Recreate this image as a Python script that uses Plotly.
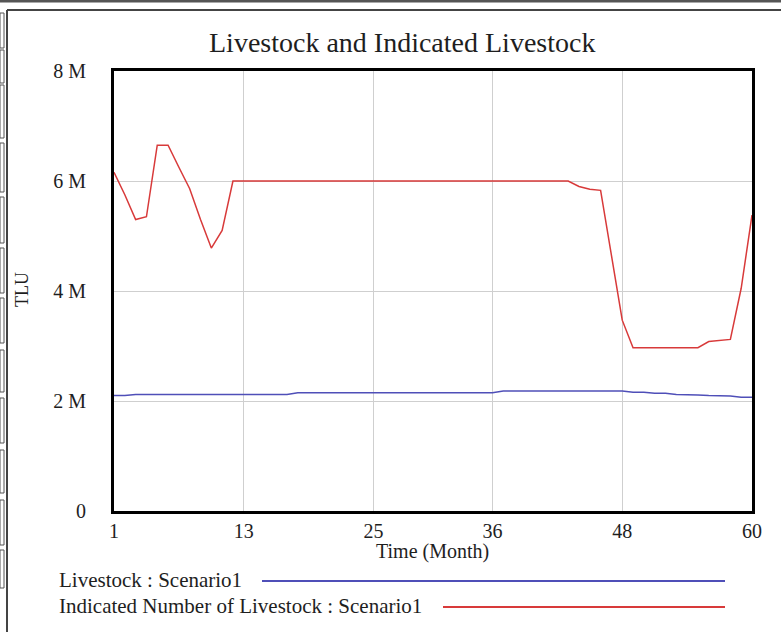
import plotly.graph_objects as go

# ---- data ----
months = list(range(1, 61))
livestock = [
    2.10e6, 2.10e6, 2.12e6, 2.12e6, 2.12e6, 2.12e6, 2.12e6, 2.12e6, 2.12e6, 2.12e6,
    2.12e6, 2.12e6, 2.12e6, 2.12e6, 2.12e6, 2.12e6, 2.12e6, 2.15e6, 2.15e6, 2.15e6,
    2.15e6, 2.15e6, 2.15e6, 2.15e6, 2.15e6, 2.15e6, 2.15e6, 2.15e6, 2.15e6, 2.15e6,
    2.15e6, 2.15e6, 2.15e6, 2.15e6, 2.15e6, 2.15e6, 2.18e6, 2.18e6, 2.18e6, 2.18e6,
    2.18e6, 2.18e6, 2.18e6, 2.18e6, 2.18e6, 2.18e6, 2.18e6, 2.18e6, 2.16e6, 2.16e6,
    2.14e6, 2.14e6, 2.12e6, 2.12e6, 2.11e6, 2.10e6, 2.10e6, 2.09e6, 2.07e6, 2.07e6,
]
indicated = [
    6.16e6, 5.75e6, 5.30e6, 5.35e6, 6.65e6, 6.65e6, 6.25e6, 5.86e6, 5.30e6, 4.78e6,
    5.10e6, 6.00e6, 6.00e6, 6.00e6, 6.00e6, 6.00e6, 6.00e6, 6.00e6, 6.00e6, 6.00e6,
    6.00e6, 6.00e6, 6.00e6, 6.00e6, 6.00e6, 6.00e6, 6.00e6, 6.00e6, 6.00e6, 6.00e6,
    6.00e6, 6.00e6, 6.00e6, 6.00e6, 6.00e6, 6.00e6, 6.00e6, 6.00e6, 6.00e6, 6.00e6,
    6.00e6, 6.00e6, 6.00e6, 5.90e6, 5.85e6, 5.83e6, 4.65e6, 3.47e6, 2.97e6, 2.97e6,
    2.97e6, 2.97e6, 2.97e6, 2.97e6, 2.97e6, 3.08e6, 3.10e6, 3.12e6, 4.05e6, 5.38e6,
]
x_ticks = [1, 13, 25, 36, 48, 60]
y_ticks = [0, 2e6, 4e6, 6e6, 8e6]
y_tick_labels = ["0", "2 M", "4 M", "6 M", "8 M"]
series_names = ["Livestock : Scenario1", "Indicated Number of Livestock : Scenario1"]
series_colors = ["#4f4fb8", "#d83a3a"]

# ---- geometry ----
W, H = 781, 634
L, R, T, B = 114, 752, 71, 511
PW, PH = R - L, B - T


def px(x):
    return (x - L) / PW


def py(y):
    return (B - y) / PH


SERIF = "Liberation Serif"
TXT = "#1e1e1e"

fig = go.Figure()
fig.add_trace(go.Scatter(x=months, y=livestock, mode="lines",
                         line=dict(color=series_colors[0], width=1.5),
                         name=series_names[0], showlegend=False))
fig.add_trace(go.Scatter(x=months, y=indicated, mode="lines",
                         line=dict(color=series_colors[1], width=1.5),
                         name=series_names[1], showlegend=False))

fig.update_layout(
    width=W, height=H,
    margin=dict(l=L, r=W - R, t=T, b=H - B, pad=0),
    paper_bgcolor="white", plot_bgcolor="white",
    font=dict(family=SERIF, color=TXT),
    xaxis=dict(range=[1, 60], tickvals=x_ticks, ticktext=[str(v) for v in x_ticks],
               showgrid=True, gridcolor="#cfcfcf", gridwidth=1, zeroline=False,
               showline=True, linecolor="black", linewidth=3, mirror=True,
               ticks="", tickfont=dict(size=20, family=SERIF, color=TXT),
               ticklabelstandoff=0),
    yaxis=dict(range=[0, 8e6], tickvals=y_ticks, ticktext=y_tick_labels,
               showgrid=True, gridcolor="#cfcfcf", gridwidth=1, zeroline=False,
               showline=True, linecolor="black", linewidth=3, mirror=True,
               ticks="", tickfont=dict(size=20, family=SERIF, color=TXT),
               ticklabelstandoff=21),
)

annotations = [
    dict(text="Livestock and Indicated Livestock", x=px(402), y=py(42),
         font=dict(size=28, family=SERIF, color=TXT)),
    dict(text="Time (Month)", x=px(432), y=py(551),
         font=dict(size=20, family=SERIF, color=TXT)),
    dict(text="TLU", x=px(22), y=py(290), textangle=-90,
         font=dict(size=18, family=SERIF, color=TXT)),
    dict(text=series_names[0], x=px(57), y=py(580), xanchor="left",
         font=dict(size=21, family=SERIF, color=TXT)),
    dict(text=series_names[1], x=px(57), y=py(606), xanchor="left",
         font=dict(size=21, family=SERIF, color=TXT)),
]
for a in annotations:
    a.update(xref="paper", yref="paper", showarrow=False)
    a.setdefault("xanchor", "center")
    a["yanchor"] = "middle"
fig.update_layout(annotations=annotations)

shapes = [
    # legend sample lines
    dict(type="line", x0=px(262), x1=px(725), y0=py(581), y1=py(581),
         line=dict(color=series_colors[0], width=2)),
    dict(type="line", x0=px(443), x1=px(725), y0=py(607), y1=py(607),
         line=dict(color=series_colors[1], width=2)),
    # window frame
    dict(type="line", x0=px(0), x1=px(781), y0=py(1), y1=py(1),
         line=dict(color="#555555", width=3)),
    dict(type="line", x0=px(7), x1=px(781), y0=py(10), y1=py(10),
         line=dict(color="#444444", width=2)),
    dict(type="line", x0=px(7), x1=px(7), y0=py(10), y1=py(632),
         line=dict(color="#444444", width=2)),
]
# left strip of small boxes
box_tops = [13, 50, 85, 143, 197, 248, 298, 350, 398, 450, 500, 550]
box_bots = [48, 83, 138, 192, 243, 293, 343, 392, 443, 493, 545, 588]
for t0, b0 in zip(box_tops, box_bots):
    shapes.append(dict(type="rect", x0=px(0), x1=px(4), y0=py(t0), y1=py(b0),
                       line=dict(color="#555555", width=1), fillcolor="white"))
for s in shapes:
    s.update(xref="paper", yref="paper", layer="above")
fig.update_layout(shapes=shapes)

fig.write_html("out.html", config={"displayModeBar": False},
               post_script="document.body.style.margin='0';document.body.style.padding='0';")
